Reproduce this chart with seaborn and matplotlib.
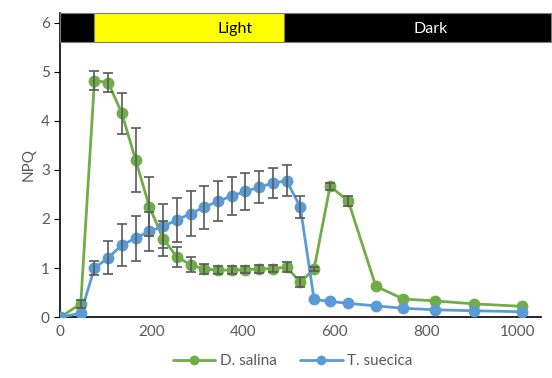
import matplotlib
matplotlib.use("Agg")
import matplotlib.pyplot as plt
import numpy as np
import pandas as pd
import seaborn as sns

# time (s)
time = [0, 45, 75, 105, 135, 165, 195, 225, 255, 285, 315, 345, 375, 405,
        435, 465, 495, 525, 555, 590, 630, 690, 750, 820, 905, 1010]

salina = [0, 0.27, 4.82, 4.78, 4.15, 3.2, 2.25, 1.6, 1.23, 1.07, 0.98, 0.96,
          0.96, 0.97, 0.98, 0.99, 1.02, 0.71, 0.98, 2.67, 2.36, 0.63, 0.37,
          0.33, 0.27, 0.22]
salina_err = [0, 0.08, 0.2, 0.2, 0.42, 0.65, 0.6, 0.35, 0.2, 0.16, 0.1, 0.08,
              0.08, 0.08, 0.08, 0.08, 0.1, 0.1, 0.05, 0.07, 0.1, 0, 0, 0, 0, 0]

suecica = [0, 0.08, 1.0, 1.21, 1.47, 1.61, 1.75, 1.85, 1.98, 2.11, 2.24, 2.36,
           2.47, 2.56, 2.65, 2.73, 2.78, 2.24, 0.36, 0.32, 0.28, 0.23, 0.18,
           0.15, 0.13, 0.11]
suecica_err = [0, 0, 0.15, 0.34, 0.43, 0.46, 0.4, 0.45, 0.45, 0.45, 0.44, 0.41,
               0.39, 0.38, 0.33, 0.31, 0.31, 0.23, 0, 0, 0, 0, 0, 0, 0, 0]

# light / dark periods
periods = ["", "Light", "Dark"]
period_start = [0, 75, 490]
period_end = [75, 490, 1072]
period_color = ["black", "#FFFF00", "black"]
period_text = ["black", "black", "white"]
period_label_x = [0, 383, 810]

GREEN = "#70AD47"
BLUE = "#5B9BD5"
GREY = "#595959"

df = pd.concat([
    pd.DataFrame({"time": time, "NPQ": salina, "err": salina_err, "species": "D. salina"}),
    pd.DataFrame({"time": time, "NPQ": suecica, "err": suecica_err, "species": "T. suecica"}),
])

sns.set_style("white")
plt.rcParams["font.family"] = ["Lato", "DejaVu Sans"]

fig = plt.figure(figsize=(5.52, 3.78), dpi=100)
ax = fig.add_axes([0.109, 0.161, 0.871, 0.805])

sns.lineplot(data=df, x="time", y="NPQ", hue="species", palette=[GREEN, BLUE],
             marker="o", markersize=8.5, markeredgewidth=0, linewidth=2,
             ax=ax, legend=False, zorder=3)

for sp in ["D. salina", "T. suecica"]:
    d = df[df["species"] == sp]
    e = d["err"].replace(0, np.nan)
    ax.errorbar(d["time"], d["NPQ"], yerr=e, fmt="none", ecolor=GREY,
                elinewidth=1.2, capsize=3.5, capthick=1.2, zorder=4)

for name, s, e, c, tc, lx in zip(periods, period_start, period_end,
                                 period_color, period_text, period_label_x):
    ax.fill_between([s, e], 5.6, 6.2, color=c, edgecolor="#7f7f7f",
                    linewidth=0.8, clip_on=False, zorder=5)
    if name:
        ax.text(lx, 5.88, name, ha="center", va="center", color=tc,
                fontsize=11.5, zorder=6, clip_on=False)

ax.set_xlim(0, 1051)
ax.set_ylim(0, 6.2)
ax.set_xticks([0, 200, 400, 600, 800, 1000])
ax.set_yticks([0, 1, 2, 3, 4, 5, 6])
ax.set_xlabel("")
ax.set_ylabel("NPQ", color=GREY, fontsize=11)
ax.tick_params(axis="both", labelsize=11, labelcolor=GREY)
ax.tick_params(axis="y", length=4, color="black", left=True)
ax.tick_params(axis="x", length=0, pad=6)
for side in ["top", "right"]:
    ax.spines[side].set_visible(False)
for side in ["left", "bottom"]:
    ax.spines[side].set_color("black")
    ax.spines[side].set_linewidth(1.2)

handles = [plt.Line2D([], [], color=GREEN, marker="o", markersize=7, lw=2, markeredgewidth=0),
           plt.Line2D([], [], color=BLUE, marker="o", markersize=7, lw=2, markeredgewidth=0)]
leg = fig.legend(handles, ["D. salina", "T. suecica"], loc="lower center",
                 bbox_to_anchor=(0.53, -0.01), ncol=2, frameon=False,
                 fontsize=11, handlelength=2.8, columnspacing=1.5,
                 handletextpad=0.3)
for t in leg.get_texts():
    t.set_color(GREY)

fig.savefig("out.png", dpi=100)
